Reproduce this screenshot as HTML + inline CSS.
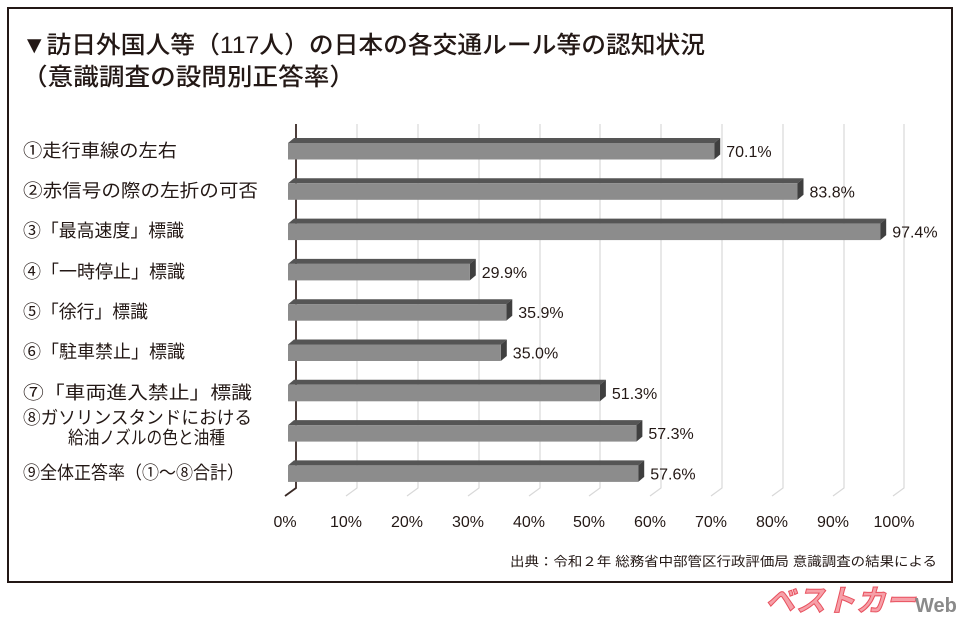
<!DOCTYPE html>
<html><head><meta charset="utf-8"><style>
body{margin:0;background:#fff;width:960px;height:620px;overflow:hidden;font-family:"Liberation Sans","Noto Sans CJK JP",sans-serif;}
</style></head><body>
<svg width="960" height="620" xmlns="http://www.w3.org/2000/svg" font-family="Liberation Sans, Noto Sans CJK JP, sans-serif">
<rect x="8" y="8" width="944" height="574" fill="#fff" stroke="#231815" stroke-width="2"/>
<text x="22" y="53" font-size="24" fill="#231815" font-weight="500" textLength="683" lengthAdjust="spacingAndGlyphs">▼訪日外国人等（117人）の日本の各交通ルール等の認知状況</text>
<text x="22" y="85" font-size="24" fill="#231815" font-weight="500" textLength="333" lengthAdjust="spacingAndGlyphs">（意識調査の設問別正答率）</text>
<g stroke="#d8d8d8" stroke-width="1.2" fill="none">
<path d="M357,124V488L346,496"/><path d="M418,124V488L407,496"/><path d="M479,124V488L468,496"/><path d="M540,124V488L529,496"/><path d="M600,124V488L589,496"/><path d="M661,124V488L650,496"/><path d="M722,124V488L711,496"/><path d="M783,124V488L772,496"/><path d="M844,124V488L833,496"/><path d="M904,124V488L893,496"/>
</g>
<path d="M296,124V488L285,496" stroke="#3a2a26" stroke-width="1.8" fill="none"/>
<g id="bars"></g>
<g font-size="18" fill="#231815" lengthAdjust="spacingAndGlyphs">
<text x="23" y="157" textLength="154" lengthAdjust="spacingAndGlyphs">①走行車線の左右</text>
<text x="23" y="197" textLength="235" lengthAdjust="spacingAndGlyphs">②赤信号の際の左折の可否</text>
<text x="23" y="237" textLength="161" lengthAdjust="spacingAndGlyphs">③「最高速度」標識</text>
<text x="23" y="278" textLength="162" lengthAdjust="spacingAndGlyphs">④「一時停止」標識</text>
<text x="23" y="318" textLength="125" lengthAdjust="spacingAndGlyphs">⑤「徐行」標識</text>
<text x="23" y="358" textLength="162" lengthAdjust="spacingAndGlyphs">⑥「駐車禁止」標識</text>
<text x="23" y="399" textLength="229" lengthAdjust="spacingAndGlyphs">⑦「車両進入禁止」標識</text>
<text x="23" y="424" textLength="229" lengthAdjust="spacingAndGlyphs">⑧ガソリンスタンドにおける</text>
<text x="68" y="444" textLength="157" lengthAdjust="spacingAndGlyphs">給油ノズルの色と油種</text>
<text x="23" y="479" textLength="221" lengthAdjust="spacingAndGlyphs">⑨全体正答率（①～⑧合計）</text>
</g>
<g font-size="16" fill="#231815" text-anchor="middle">
<text x="285" y="527">0%</text><text x="346" y="527">10%</text><text x="407" y="527">20%</text><text x="468" y="527">30%</text><text x="529" y="527">40%</text><text x="589" y="527">50%</text><text x="650" y="527">60%</text><text x="711" y="527">70%</text><text x="772" y="527">80%</text><text x="833" y="527">90%</text><text x="894" y="527">100%</text>
</g>
<text x="510" y="566" font-size="13" fill="#231815" textLength="427" lengthAdjust="spacingAndGlyphs">出典：令和２年 総務省中部管区行政評価局 意識調査の結果による</text>
<text x="765" y="611" font-size="30" font-weight="bold" font-style="italic" fill="#f6a0a8" stroke="#e8505e" stroke-width="1">ベストカー</text>
<text x="915" y="612" font-size="20" font-weight="bold" fill="#8a8a8a">Web</text>
</svg>
<script>
var v=[70.1,83.8,97.4,29.9,35.9,35.0,51.3,57.3,57.6],g=document.getElementById('bars'),s='';
v.forEach(function(p,i){var t=143+i*40.3,x0=288,x1=288+p*6.08,h=16.5;
s+='<polygon points="'+x0+','+t+' '+(x0+6)+','+(t-5)+' '+(x1+6)+','+(t-5)+' '+x1+','+t+'" fill="#555"/>';
s+='<polygon points="'+x1+','+t+' '+(x1+6)+','+(t-5)+' '+(x1+6)+','+(t+h-5)+' '+x1+','+(t+h)+'" fill="#3f3f3f"/>';
s+='<rect x="'+x0+'" y="'+t+'" width="'+(x1-x0)+'" height="'+h+'" fill="#8c8c8c"/>';
s+='<text x="'+(x1+12)+'" y="'+(t+14)+'" font-size="16" fill="#231815">'+p.toFixed(1)+'%</text>';});
g.innerHTML=s;
</script>
</body></html>
